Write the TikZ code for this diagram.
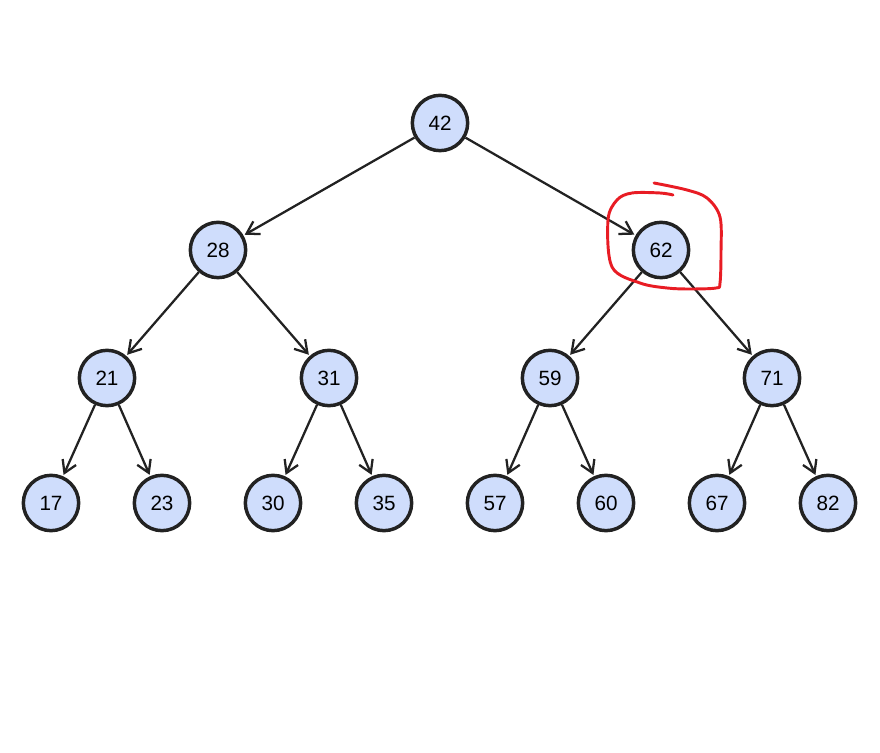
\documentclass[tikz,border=0pt]{standalone}
\usepackage{fontspec}
\setmainfont{Liberation Sans}
\usetikzlibrary{arrows.meta}
\definecolor{nodeblue}{RGB}{207, 221, 252}
\definecolor{edgegray}{RGB}{34, 34, 34}
\definecolor{markred}{RGB}{232, 28, 36}

\begin{document}
\begin{tikzpicture}[x=0.75pt, y=0.75pt, >={Straight Barb[length=9pt, width=11pt]},
    vtx/.style={circle, draw=edgegray, line width=2.6pt, fill=nodeblue,
      minimum size=41.5pt, inner sep=0pt, font=\fontsize{15.5}{18}\selectfont},
    edge/.style={->, edgegray, line width=1.7pt, shorten >=1pt}]
  \useasboundingbox (0,0) rectangle (880,752);

  % Root and inner levels
  \node[vtx] (n42) at (440,629) {42};
  \node[vtx] (n28) at (218,502) {28};
  \node[vtx] (n62) at (661,502) {62};
  \foreach \v/\x in {21/107, 31/329, 59/550, 71/772}{
    \node[vtx] (n\v) at (\x,374) {\v};
  }
  % Leaves
  \foreach \v/\x in {17/51, 23/162, 30/273, 35/384, 57/495, 60/606, 67/717, 82/828}{
    \node[vtx] (n\v) at (\x,249) {\v};
  }

  % Parent to child arrows
  \foreach \p/\c in {42/28, 42/62, 28/21, 28/31, 62/59, 62/71,
      21/17, 21/23, 31/30, 31/35, 59/57, 59/60, 71/67, 71/82}{
    \draw[edge] (n\p) -- (n\c);
  }

  % Hand-drawn mark round 62
  \draw[markred, line width=2.2pt, line cap=round, line join=round]
    plot[smooth, tension=0.55] coordinates {(654,569) (687,562) (707,554)
      (720,535) (721,500) (720,469) (716,464) (690,463) (667,464) (640,469)
      (612,485) (608,532) (617,552) (632,559) (660,559) (673,557)};
\end{tikzpicture}
\end{document}
